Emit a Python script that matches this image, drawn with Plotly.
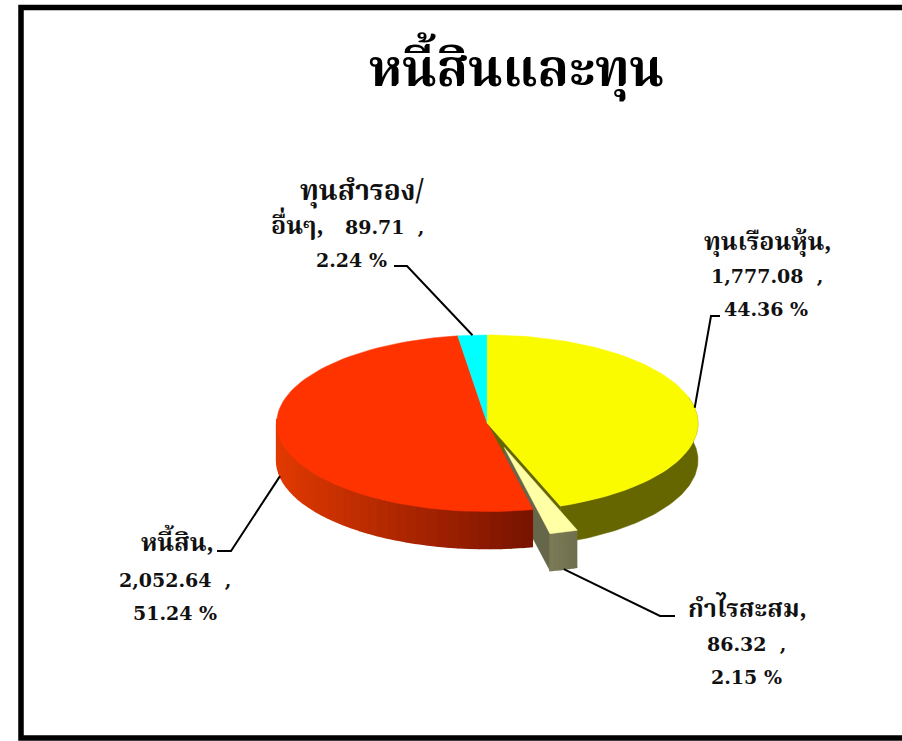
import numpy as np
import plotly.graph_objects as go

# Data
categories = ["ทุนเรือนหุ้น", "กำไรสะสม", "หนี้สิน", "ทุนสำรอง/อื่นๆ"]
values = [1777.08, 86.32, 2052.64, 89.71]
percents = ["44.36 %", "2.15 %", "51.24 %", "2.24 %"]
top_colors = ["#FBFB00", "#FFFFA6", "#FF3300", "#00FFFF"]
title_text = "หนี้สินและทุน"

# 3D pie projection, in page pixels
CX, CY, RX, RY, DEPTH, EXPLODE = 487.3, 423.3, 210.7, 88.3, 37, 0.285
fr = np.array(values) / sum(values)
edges = np.concatenate([[0], np.cumsum(fr)]) * 2 * np.pi


def pt(a, r=1.0):
    return CX + RX * r * np.sin(a), CY - RY * r * np.cos(a)


def arc(a0, a1, n=80):
    t = np.linspace(a0, a1, n)
    return CX + RX * np.sin(t), CY - RY * np.cos(t)


fig = go.Figure()


def poly(xs, ys, color, width=0.5):
    fig.add_trace(go.Scatter(x=list(xs), y=list(ys), mode="lines", fill="toself",
                             fillcolor=color, line=dict(color=color, width=width),
                             hoverinfo="skip", showlegend=False))


def mix(c0, c1, t):
    return "rgb(%d,%d,%d)" % tuple(c0[i] + (c1[i] - c0[i]) * t for i in range(3))


a = edges
# yellow cut wall and rim
cx0, cy0 = pt(a[1])
poly([CX, cx0, cx0, CX], [CY, cy0, cy0 + DEPTH, CY + DEPTH], "#666600")
ax, ay = arc(a[0] + np.pi / 2 - 0.3, a[1])
poly(list(ax) + list(ax[::-1]), list(ay) + list(ay[::-1] + DEPTH), "#666600")

# exploded slice offset
mid = (a[1] + a[2]) / 2
ox, oy = EXPLODE * RX * np.sin(mid), -EXPLODE * RY * np.cos(mid)
sx, sy = arc(a[1], a[2], 8)
sx, sy = sx + ox, sy + oy
apx, apy = CX + ox, CY + oy
poly([apx, sx[-1], sx[-1], apx], [apy, sy[-1], sy[-1] + DEPTH, apy + DEPTH], "#66664A")
for i in range(len(sx) - 1):
    t = i / (len(sx) - 2)
    poly([sx[i], sx[i + 1], sx[i + 1], sx[i]], [sy[i], sy[i + 1], sy[i + 1] + DEPTH, sy[i] + DEPTH],
         mix((112, 112, 78), (122, 122, 86), t), width=1.5)

# red rim with gradient
N = 36
rim = np.linspace(a[2], 3 * np.pi / 2 + 0.05, N + 1)
for i in range(N):
    x0, y0 = pt(rim[i])
    x1, y1 = pt(rim[i + 1])
    t = (x0 - 277) / (533 - 277)
    poly([x0, x1, x1, x0], [y0, y1, y1 + DEPTH, y0 + DEPTH],
         mix((226, 58, 0), (122, 20, 0), min(max(t, 0), 1)), width=1.5)

# tops
for i in [2, 3, 0]:
    ax, ay = arc(a[i], a[i + 1])
    poly([CX] + list(ax) + [CX], [CY] + list(ay) + [CY], top_colors[i])
poly([apx] + list(sx) + [apx], [apy] + list(sy) + [apy], top_colors[1])

# leader lines, starting on the slice rims
LINE = dict(color="black", width=2)
mids = (a[:-1] + a[1:]) / 2
y_start = [pt(mids[0])[1], pt(mids[1])[1] + oy + DEPTH, pt(mids[2])[1] + DEPTH, pt(mids[3])[1]]
x_start = [pt(mids[0])[0], pt(mids[1])[0] + ox, pt(mids[2])[0], pt(mids[3])[0]]
elbows = [[(711, 316), (720, 316)], [(660, 616), (675, 616)], [(231, 551), (217, 551)], [(407, 266), (394, 266)]]
shapes = [dict(type="rect", xref="x", yref="y", x0=21, y0=7.5, x1=960, y1=738,
               line=dict(color="black", width=5.5), fillcolor="rgba(0,0,0,0)")]
for i, e in enumerate(elbows):
    xs = [x_start[i]] + [p[0] for p in e]
    ys = [y_start[i]] + [p[1] for p in e]
    fig.add_trace(go.Scatter(x=xs, y=ys, mode="lines", line=LINE, hoverinfo="skip",
                             showlegend=False))

THAI = "Noto Serif Thai, Noto Sans Thai, Noto Sans, DejaVu Sans, serif"
NUM = "DejaVu Serif, Liberation Serif, serif"
labels = [
    (768, 243, "ทุนเรือนหุ้น,", THAI, 25), (767, 276, "1,777.08  ,", NUM, 19), (766, 309, percents[0], NUM, 19),
    (747, 610, "กำไรสะสม,", THAI, 25), (746, 644, "86.32  ,", NUM, 19), (746, 677, percents[1], NUM, 19),
    (177, 544, "หนี้สิน,", THAI, 25), (175, 580, "2,052.64  ,", NUM, 19), (175, 613, percents[2], NUM, 19),
    (362, 192, "ทุนสำรอง/", THAI, 28), (297, 227, "อื่นๆ,", THAI, 25), (384, 227, "89.71  ,", NUM, 19),
    (351, 260, percents[3], NUM, 19),
]
ann = [dict(x=x, y=y, text="<b>%s</b>" % t, showarrow=False, xanchor="center", yanchor="middle",
            font=dict(family=f, size=s, color="#111111")) for x, y, t, f, s in labels]
ann.append(dict(x=516, y=72, text="<b>%s</b>" % title_text, showarrow=False, xanchor="center",
                yanchor="middle", font=dict(family=THAI, size=51, color="black")))

fig.update_layout(
    width=902, height=741, margin=dict(l=0, r=0, t=0, b=0),
    paper_bgcolor="white", plot_bgcolor="white", showlegend=False,
    xaxis=dict(range=[0, 902], visible=False, fixedrange=True),
    yaxis=dict(range=[741, 0], visible=False, fixedrange=True),
    shapes=shapes, annotations=ann,
)
fig.write_html("out.html", config={"displayModeBar": False},
               post_script="document.body.style.margin='0';")
